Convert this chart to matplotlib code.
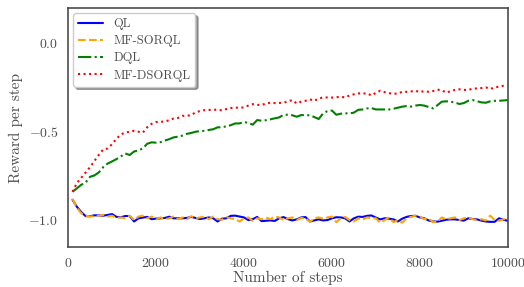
import matplotlib
matplotlib.use("Agg")
import matplotlib.pyplot as plt
import seaborn as sns

sns.set_style("white")
plt.rcParams['font.family'] = ['cmr10', 'DejaVu Serif']
plt.rcParams['mathtext.fontset'] = 'cm'
plt.rcParams['axes.formatter.use_mathtext'] = True

steps = list(range(100, 10001, 100))

ql = [-0.885, -0.925, -0.955, -0.978, -0.978, -0.973, -0.974, -0.975, -0.971, -0.966,
      -0.982, -0.984, -0.977, -0.977, -1.008, -0.990, -0.986, -0.982, -0.995, -0.992,
      -0.990, -0.988, -0.981, -0.990, -0.990, -0.990, -0.988, -0.982, -0.988, -0.994,
      -0.990, -0.985, -0.990, -1.008, -0.992, -0.990, -0.976, -0.975, -0.980, -0.985,
      -1.000, -0.995, -0.982, -1.006, -1.004, -1.002, -1.005, -0.990, -0.983, -0.995,
      -1.002, -0.996, -0.985, -0.983, -1.008, -1.002, -0.996, -1.002, -1.000, -0.990,
      -0.984, -0.985, -0.990, -1.008, -0.990, -0.981, -0.982, -0.976, -0.974, -0.986,
      -0.996, -0.990, -0.992, -0.996, -1.008, -0.992, -0.982, -0.977, -0.976, -0.985,
      -0.990, -1.002, -1.008, -1.009, -1.004, -0.998, -0.996, -0.996, -1.000, -1.003,
      -0.990, -0.994, -0.996, -1.003, -1.008, -1.010, -1.010, -0.990, -0.998, -1.004]

mf_sorql = [-0.880, -0.930, -0.962, -0.975, -0.980, -0.978, -0.976, -0.970, -0.980, -0.975,
            -0.988, -0.985, -0.990, -0.975, -1.000, -0.980, -0.975, -0.990, -0.980, -0.995,
            -0.985, -0.995, -0.990, -0.980, -0.995, -0.985, -0.995, -0.978, -0.990, -0.985,
            -0.980, -0.995, -0.980, -0.995, -0.998, -0.985, -0.990, -0.995, -1.008, -0.990,
            -0.985, -1.005, -0.990, -0.995, -0.985, -0.995, -0.980, -0.985, -1.000, -0.990,
            -0.985, -1.000, -0.988, -0.990, -1.010, -0.990, -0.985, -0.992, -0.985, -0.980,
            -1.012, -0.990, -0.982, -1.000, -1.008, -0.990, -0.998, -0.985, -0.990, -0.990,
            -1.015, -1.000, -0.985, -1.012, -1.000, -1.015, -0.990, -0.982, -0.975, -0.980,
            -0.995, -0.990, -1.012, -1.010, -0.985, -0.995, -0.990, -0.985, -1.000, -0.990,
            -0.985, -0.995, -1.000, -0.995, -1.002, -0.975, -1.000, -1.004, -0.995, -0.995]

dql = [-0.840, -0.820, -0.800, -0.787, -0.755, -0.747, -0.730, -0.700, -0.680, -0.668,
       -0.655, -0.640, -0.623, -0.632, -0.612, -0.606, -0.594, -0.568, -0.560, -0.562,
       -0.559, -0.550, -0.542, -0.532, -0.528, -0.522, -0.512, -0.507, -0.500, -0.497,
       -0.495, -0.490, -0.486, -0.475, -0.475, -0.469, -0.463, -0.453, -0.453, -0.445,
       -0.450, -0.460, -0.434, -0.438, -0.435, -0.430, -0.424, -0.419, -0.404, -0.404,
       -0.407, -0.415, -0.406, -0.406, -0.407, -0.417, -0.428, -0.396, -0.383, -0.380,
       -0.404, -0.398, -0.396, -0.396, -0.392, -0.376, -0.374, -0.368, -0.366, -0.374,
       -0.374, -0.374, -0.374, -0.370, -0.364, -0.358, -0.355, -0.358, -0.352, -0.349,
       -0.352, -0.360, -0.368, -0.350, -0.330, -0.328, -0.330, -0.335, -0.343, -0.338,
       -0.325, -0.321, -0.327, -0.334, -0.336, -0.328, -0.325, -0.325, -0.323, -0.321]

mf_dsorql = [-0.840, -0.790, -0.760, -0.730, -0.700, -0.665, -0.630, -0.600, -0.595, -0.570,
             -0.540, -0.515, -0.505, -0.500, -0.495, -0.500, -0.505, -0.475, -0.455, -0.445,
             -0.444, -0.442, -0.435, -0.425, -0.422, -0.410, -0.410, -0.406, -0.390, -0.383,
             -0.378, -0.377, -0.375, -0.376, -0.379, -0.372, -0.366, -0.363, -0.365, -0.362,
             -0.352, -0.344, -0.348, -0.349, -0.340, -0.336, -0.338, -0.337, -0.336, -0.328,
             -0.321, -0.340, -0.330, -0.325, -0.317, -0.325, -0.312, -0.306, -0.306, -0.307,
             -0.305, -0.302, -0.306, -0.295, -0.288, -0.283, -0.284, -0.283, -0.295, -0.280,
             -0.268, -0.276, -0.282, -0.285, -0.284, -0.274, -0.274, -0.272, -0.268, -0.276,
             -0.270, -0.274, -0.270, -0.262, -0.265, -0.279, -0.270, -0.263, -0.260, -0.263,
             -0.264, -0.256, -0.255, -0.253, -0.249, -0.258, -0.250, -0.245, -0.240, -0.238]

fig = plt.figure(figsize=(5.24, 2.87), dpi=100)
ax = fig.add_axes([0.13, 0.139, 0.839, 0.833])

ax.plot(steps, ql, '-', color='blue', linewidth=1.5, label='QL')
ax.plot(steps, mf_sorql, '--', color='orange', linewidth=1.5, label='MF-SORQL')
ax.plot(steps, dql, '-.', color='green', linewidth=1.5, label='DQL')
ax.plot(steps, mf_dsorql, ':', color='red', linewidth=1.5, label='MF-DSORQL')

ax.set_xlim(0, 10000)
ax.set_ylim(-1.153, 0.2)
ax.set_xticks([0, 2000, 4000, 6000, 8000, 10000])
ax.set_yticks([-1.0, -0.5, 0.0])
ax.tick_params(labelsize=10, colors='.3')
ax.set_xlabel("Number of steps", fontsize=11, color='.3', labelpad=1)
ax.set_ylabel("Reward per step", fontsize=11, color='.3')
for s in ax.spines.values():
    s.set_color('.3')
    s.set_linewidth(1.2)

leg = ax.legend(loc='upper left', shadow=True, fontsize=9, framealpha=1,
                labelspacing=0.4, handlelength=2.0, borderaxespad=0.4)
for t in leg.get_texts():
    t.set_color('.3')

fig.savefig("out.png", dpi=100)
